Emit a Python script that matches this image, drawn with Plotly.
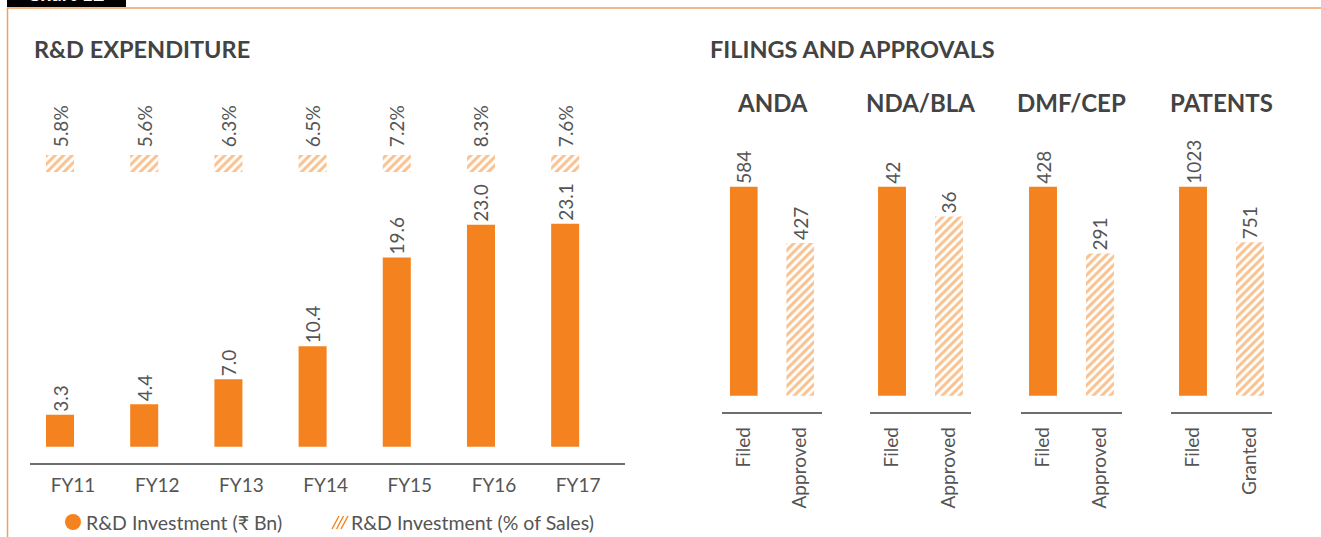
import plotly.graph_objects as go

# ---------------- data ----------------
years = ["FY11", "FY12", "FY13", "FY14", "FY15", "FY16", "FY17"]
rd_investment_bn = [3.3, 4.4, 7.0, 10.4, 19.6, 23.0, 23.1]
rd_pct_sales = ["5.8%", "5.6%", "6.3%", "6.5%", "7.2%", "8.3%", "7.6%"]

panel_titles = ["ANDA", "NDA/BLA", "DMF/CEP", "PATENTS"]
panel_categories = [["Filed", "Approved"], ["Filed", "Approved"],
                    ["Filed", "Approved"], ["Filed", "Granted"]]
panel_filed = [584, 42, 428, 1023]
panel_second = [427, 36, 291, 751]

# ---------------- style ----------------
W, H = 1321, 537
ORANGE = "#F4831F"
TXT = "#555555"
TITLE = "#434343"
AXIS = "#6E6E6E"
FONT = "Lato"
VAL_SIZE = 19
HATCH = dict(shape="/", fgcolor=ORANGE, bgcolor="white", size=6, solidity=0.5,
             fillmode="overlay")


def px(x):
    return x / W


def py(y):
    return 1 - y / H


fig = go.Figure()

# ---------- left chart: R&D expenditure ----------
L_LINE_Y, L_ZERO_Y, L_TOP_Y, L_SCALE = 462.7, 446.7, 60.0, 9.65
BAR_W, BAR_OFF = 0.333, -0.321

fig.add_trace(go.Bar(
    x=years, y=rd_investment_bn, xaxis="x", yaxis="y",
    width=BAR_W, offset=BAR_OFF,
    marker=dict(color=ORANGE, line=dict(width=0)),
    text=[f"{v:.1f}" for v in rd_investment_bn],
    textposition="outside", textangle=-90, constraintext="none",
    textfont=dict(family=FONT, size=VAL_SIZE, color=TXT),
    cliponaxis=False, showlegend=False, hoverinfo="skip",
))

fig.add_trace(go.Bar(
    x=years, y=[1] * len(years), xaxis="x", yaxis="y2",
    width=BAR_W, offset=BAR_OFF,
    marker=dict(color="white", line=dict(width=0), pattern=HATCH),
    text=["\u00a0" + t for t in rd_pct_sales], textposition="outside", textangle=-90,
    constraintext="none",
    textfont=dict(family=FONT, size=VAL_SIZE, color=TXT),
    cliponaxis=False, showlegend=False, hoverinfo="skip",
))

layout = dict(
    width=W, height=H, autosize=False,
    margin=dict(l=0, r=0, t=0, b=0),
    paper_bgcolor="white", plot_bgcolor="white",
    barmode="overlay",
    font=dict(family=FONT, color=TXT),
    xaxis=dict(domain=[px(30), px(625)], range=[-0.511, 6.556], anchor="y",
               showline=True, linecolor=AXIS, linewidth=1.6,
               ticks="outside", ticklen=5, tickcolor="rgba(0,0,0,0)",
               tickfont=dict(family=FONT, size=19, color=TXT),
               showgrid=False, zeroline=False, fixedrange=True),
    yaxis=dict(domain=[py(L_LINE_Y), py(L_TOP_Y)],
               range=[-(L_LINE_Y - L_ZERO_Y) / L_SCALE, (L_ZERO_Y - L_TOP_Y) / L_SCALE],
               visible=False, showgrid=False, zeroline=False, anchor="x"),
    yaxis2=dict(domain=[py(172), py(155)], range=[0, 1], anchor="x",
                visible=False, showgrid=False, zeroline=False),
)

# ---------- right panels: filings and approvals ----------
panel_x = [(722, 822), (870, 971), (1021, 1122), (1171, 1272)]
R_LINE_Y, R_ZERO_Y, R_TOP_Y, FILED_PX = 411.7, 395.7, 120.0, 209.0

annotations = []
for i in range(4):
    xa = f"x{i + 2}"
    ya = f"y{i + 3}"
    cats = panel_categories[i]
    scale = FILED_PX / panel_filed[i]
    fig.add_trace(go.Bar(
        x=[cats[0]], y=[panel_filed[i]], xaxis=xa, yaxis=ya, width=0.49,
        marker=dict(color=ORANGE, line=dict(width=0)),
        text=[str(panel_filed[i])], textposition="outside", textangle=-90,
        constraintext="none",
        textfont=dict(family=FONT, size=VAL_SIZE, color=TXT),
        cliponaxis=False, showlegend=False, hoverinfo="skip",
    ))
    fig.add_trace(go.Bar(
        x=[cats[1]], y=[panel_second[i]], xaxis=xa, yaxis=ya, width=0.49,
        marker=dict(color="white", line=dict(width=0), pattern=HATCH),
        text=[str(panel_second[i])], textposition="outside", textangle=-90,
        constraintext="none",
        textfont=dict(family=FONT, size=VAL_SIZE, color=TXT),
        cliponaxis=False, showlegend=False, hoverinfo="skip",
    ))
    x0, x1 = panel_x[i]
    layout[f"xaxis{i + 2}"] = dict(
        domain=[px(x0), px(x1)], range=[-0.386, 1.386], anchor=ya,
        categoryorder="array", categoryarray=cats,
        showline=True, linecolor=AXIS, linewidth=1.6,
        ticks="outside", ticklen=6, tickcolor="rgba(0,0,0,0)", tickangle=-90,
        tickfont=dict(family=FONT, size=19, color=TXT),
        showgrid=False, zeroline=False, fixedrange=True)
    layout[f"yaxis{i + 3}"] = dict(
        domain=[py(R_LINE_Y), py(R_TOP_Y)],
        range=[-(R_LINE_Y - R_ZERO_Y) / scale, (R_ZERO_Y - R_TOP_Y) / scale],
        anchor=xa, visible=False, showgrid=False, zeroline=False)
    annotations.append(dict(
        text=panel_titles[i], x=px((x0 + x1) / 2), y=py(103),
        xref="paper", yref="paper", xanchor="center", yanchor="middle",
        showarrow=False, font=dict(family=FONT, size=24, color=TITLE, weight=700)))

# titles
annotations += [
    dict(text="R&D EXPENDITURE", x=px(32), y=py(49), xref="paper", yref="paper",
         xanchor="left", yanchor="middle", showarrow=False,
         font=dict(family=FONT, size=23.5, color=TITLE, weight=700)),
    dict(text="FILINGS AND APPROVALS", x=px(708), y=py(49), xref="paper", yref="paper",
         xanchor="left", yanchor="middle", showarrow=False,
         font=dict(family=FONT, size=23.5, color=TITLE, weight=700)),
    # legend texts
    dict(text="R&D Investment (₹ Bn)", x=px(84), y=py(522), xref="paper", yref="paper",
         xanchor="left", yanchor="middle", showarrow=False,
         font=dict(family=FONT, size=19.5, color=TXT)),
    dict(text="R&D Investment (% of Sales)", x=px(349), y=py(522), xref="paper", yref="paper",
         xanchor="left", yanchor="middle", showarrow=False,
         font=dict(family=FONT, size=19.5, color=TXT)),
    # chart tab label (clipped at top, as in the original)
    dict(text="Chart 12", x=px(66), y=py(7), xref="paper", yref="paper",
         xanchor="center", yanchor="bottom", showarrow=False,
         font=dict(family=FONT, size=20, color="white", weight=700)),
]

shapes = [
    # black tab
    dict(type="rect", xref="paper", yref="paper", x0=px(7), x1=px(126), y0=py(7), y1=py(-5),
         fillcolor="black", line=dict(width=0), layer="below"),
    # orange frame
    dict(type="line", xref="paper", yref="paper", x0=px(7), x1=px(W + 2), y0=py(8), y1=py(8),
         line=dict(color="#F0A060", width=1.5)),
    dict(type="line", xref="paper", yref="paper", x0=px(7.5), x1=px(7.5), y0=py(8), y1=py(H + 2),
         line=dict(color="#F0A060", width=1.5)),
    # legend circle
    dict(type="circle", xref="paper", yref="paper", x0=px(65), x1=px(81), y0=py(530), y1=py(514),
         fillcolor=ORANGE, line=dict(width=0)),
]
# legend hatch icon: short diagonal strokes
for k in range(3):
    sx = 332 + k * 4.5
    shapes.append(dict(type="line", xref="paper", yref="paper",
                       x0=px(sx), y0=py(529), x1=px(sx + 7), y1=py(516),
                       line=dict(color=ORANGE, width=1.4)))

layout["annotations"] = annotations
layout["shapes"] = shapes
fig.update_layout(**layout)

fig.write_html("out.html", config={"displayModeBar": False},
               post_script="document.body.style.margin='0';")
